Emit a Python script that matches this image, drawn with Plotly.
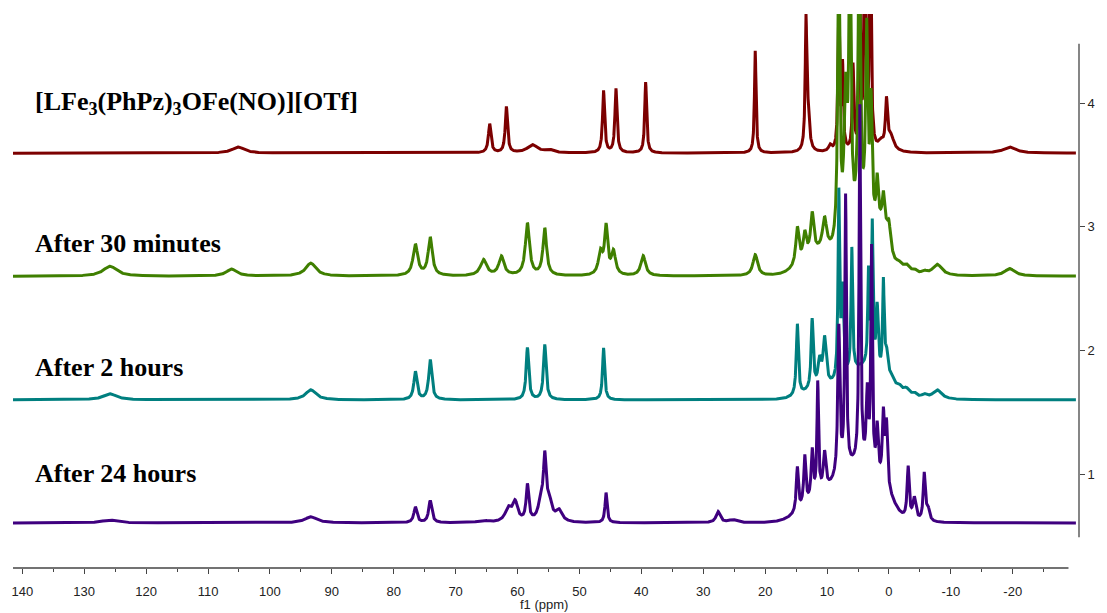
import numpy as np
import plotly.graph_objects as go

# ---- chemical-shift window (ppm, reversed as usual for NMR) ----
PPM_LEFT, PPM_RIGHT = 141.5, -30.7
SPEC_LEFT, SPEC_RIGHT = 141.5, -30.2

labels = [
    "[LFe<sub>3</sub>(PhPz)<sub>3</sub>OFe(NO)][OTf]",
    "After 30 minutes",
    "After 2 hours",
    "After 24 hours",
]
colors = ["#7c0000", "#3f7f00", "#007f7f", "#3f007f"]
offsets = [3.595, 2.60, 1.60, 0.605]
label_y = [4.0, 2.868, 1.866, 1.009]

# ---- sharp lines: shift (ppm), height (stack units), half width (ppm) ----
red_ppm = [105.1, 64.5, 61.8, 57.6, 54.9, 46.1, 44.1, 39.3, 21.6, 13.4, 13.1,
           9.5, 8.1, 7.5, 5.8, 4.7, 3.9, 3.0, 1.3, 0.4, -0.3, -19.5]
red_h = [0.049, 0.234, 0.372, 0.065, 0.024, 0.501, 0.517, 0.574, 0.825, 0.978, 0.283,
         0.049, 1.213, 0.671, 0.679, 1.213, 2.02, 2.02, 0.065, 0.38, 0.12, 0.049]
red_w = [1.2, 0.25, 0.22, 1.0, 0.8, 0.2, 0.2, 0.18, 0.15, 0.15, 0.3,
         0.3, 0.15, 0.15, 0.15, 0.15, 0.15, 0.15, 0.5, 0.2, 0.6, 1.2]

green_ppm = [125.85, 106.2, 93.4, 76.5, 74.1, 65.5, 62.6, 58.4, 55.6, 46.6, 45.7,
             44.5, 39.7, 21.6, 14.8, 13.6, 12.4, 10.4, 8.1, 7.0, 6.3, 4.8, 3.6,
             2.9, 1.9, 0.9, 0.0, -1.6, -2.8, -4.1, -5.7, -7.8, -19.5]
green_h = [0.081, 0.057, 0.105, 0.251, 0.307, 0.129, 0.154, 0.42, 0.38, 0.178, 0.38,
           0.186, 0.162, 0.17, 0.3, 0.2, 0.32, 0.26, 2.425, 1.1, 2.425, 2.425, 1.5,
           0.95, 0.36, 0.22, 0.16, 0.05, 0.06, 0.03, 0.024, 0.09, 0.06]
green_w = [1.3, 1.0, 1.0, 0.45, 0.4, 0.6, 0.5, 0.4, 0.35, 0.4, 0.3,
           0.4, 0.45, 0.45, 0.3, 0.3, 0.3, 0.4, 0.2, 0.3, 0.2, 0.2, 0.2,
           0.2, 0.2, 0.2, 0.3, 0.6, 0.6, 0.5, 0.5, 0.9, 1.0]

teal_ppm = [125.85, 93.4, 76.5, 74.1, 58.4, 55.6, 46.1, 14.8, 12.4, 11.2, 10.4,
            8.1, 7.5, 6.0, 3.3, 2.7, 1.9, 0.9, 0.4, -0.4, -1.6, -2.8, -4.1,
            -5.7, -7.8]
teal_h = [0.049, 0.081, 0.226, 0.323, 0.42, 0.445, 0.42, 0.58, 0.56, 0.2, 0.38,
          1.5, 0.7, 1.0, 0.75, 1.15, 0.52, 0.75, 0.22, 0.08, 0.06,
          0.06, 0.035, 0.03, 0.075]
teal_w = [1.3, 1.0, 0.3, 0.3, 0.25, 0.25, 0.2, 0.2, 0.2, 0.3, 0.3,
          0.15, 0.2, 0.15, 0.15, 0.15, 0.2, 0.15, 0.3, 0.5, 0.6,
          0.6, 0.5, 0.5, 0.9]

purple_ppm = [125.85, 93.4, 76.5, 74.1, 65.5, 61.5, 60.4, 58.4, 56.2, 55.6, 54.9,
              53.3, 45.7, 27.6, 25.2, 14.8, 13.6, 12.4, 11.5, 10.4, 8.1, 7.0, 4.7,
              3.5, 2.8, 1.9, 0.9, 0.4, -3.1, -4.1, -5.7, -6.3]
purple_h = [0.024, 0.049, 0.126, 0.178, 0.016, 0.105, 0.154, 0.291, 0.162, 0.453, 0.162,
            0.089, 0.243, 0.089, 0.024, 0.36, 0.4, 0.39, 0.9, 0.3, 1.2, 2.2, 2.9,
            0.6, 1.8, 0.4, 0.55, 0.5, 0.42, 0.18, 0.38, 0.1]
purple_w = [1.5, 1.2, 0.3, 0.3, 1.0, 0.6, 0.5, 0.25, 0.5, 0.25, 0.5,
            0.6, 0.2, 0.4, 0.8, 0.2, 0.2, 0.2, 0.15, 0.25, 0.2, 0.15, 0.15,
            0.2, 0.15, 0.2, 0.2, 0.2, 0.2, 0.3, 0.2, 0.3]

# ---- broad paramagnetic envelopes: centre (ppm), height, sigma (ppm) ----
red_env = ([], [], [])
green_env = ([11.5, 4.0, 0.8], [0.17, 0.42, 0.2], [2.6, 2.6, 0.8])
teal_env = ([11.0, 4.0], [0.08, 0.25], [2.6, 2.8])
purple_env = ([11.0, 5.0, 0.5], [0.17, 0.42, 0.12], [3.0, 3.0, 1.5])

spectra = [
    (red_ppm, red_h, red_w, red_env),
    (green_ppm, green_h, green_w, green_env),
    (teal_ppm, teal_h, teal_w, teal_env),
    (purple_ppm, purple_h, purple_w, purple_env),
]

x_ticks = list(range(-20, 141, 10))
x_ticktext = [str(v) for v in x_ticks]
x_minor = list(range(-25, 140, 10))
y_ticks = [1, 2, 3, 4]

shift = np.linspace(SPEC_LEFT, SPEC_RIGHT, 9000)


def spectrum(pos, height, hwhm, env):
    """Lorentzian lines plus Gaussian envelopes on the shift grid."""
    y = np.zeros_like(shift)
    for p, h, w in zip(pos, height, hwhm):
        y += h * w * w / ((shift - p) ** 2 + w * w)
    for c, h, s in zip(*env):
        y += h * np.exp(-0.5 * ((shift - c) / s) ** 2)
    return y


fig = go.Figure()
for (pos, h, w, env), col, off in zip(spectra, colors, offsets):
    fig.add_trace(go.Scatter(
        x=shift, y=off + spectrum(pos, h, w, env), mode="lines",
        line=dict(color=col, width=3), hoverinfo="skip",
    ))

for txt, yy in zip(labels, label_y):
    fig.add_annotation(
        x=0.0186, xref="paper", y=yy, yref="y", text=txt, showarrow=False,
        xanchor="left", yanchor="middle",
        font=dict(family="Liberation Serif", size=26, color="black", weight="bold"),
    )

# axis title under the shift scale
fig.add_annotation(
    x=0.498, xref="paper", y=-0.066, yref="paper", text="f1 (ppm)",
    showarrow=False, xanchor="center", yanchor="middle",
    font=dict(family="Liberation Sans", size=13, color="#222222"),
)

# axis lines drawn separately so they stop where the frame stops
fig.add_shape(type="line", xref="x", yref="paper", x0=141.5, x1=-29.0, y0=0, y1=0,
              line=dict(color="#444444", width=1.3))
fig.add_shape(type="line", xref="paper", yref="y", x0=1, x1=1, y0=0.49, y1=4.48,
              line=dict(color="#444444", width=1.3))

fig.update_layout(
    width=1107, height=613,
    margin=dict(l=12, r=17, t=14, b=45),
    plot_bgcolor="white", paper_bgcolor="white", showlegend=False,
    xaxis=dict(
        range=[PPM_LEFT, PPM_RIGHT], tickvals=x_ticks, ticktext=x_ticktext,
        ticks="outside", ticklen=5, tickcolor="#444444", tickwidth=1.2,
        ticklabelstandoff=6,
        tickfont=dict(family="Liberation Sans", size=13, color="#222222"),
        showgrid=False, zeroline=False, showline=False,
        minor=dict(tickvals=x_minor, ticks="outside", ticklen=3,
                   tickcolor="#444444", showgrid=False),
    ),
    yaxis=dict(
        range=[0.241, 4.72], side="right", tickvals=y_ticks,
        ticks="outside", ticklen=5, tickcolor="#444444", tickwidth=1.2,
        tickfont=dict(family="Liberation Sans", size=13, color="#222222"),
        showgrid=False, zeroline=False, showline=False,
    ),
)

fig.write_html("out.html")
